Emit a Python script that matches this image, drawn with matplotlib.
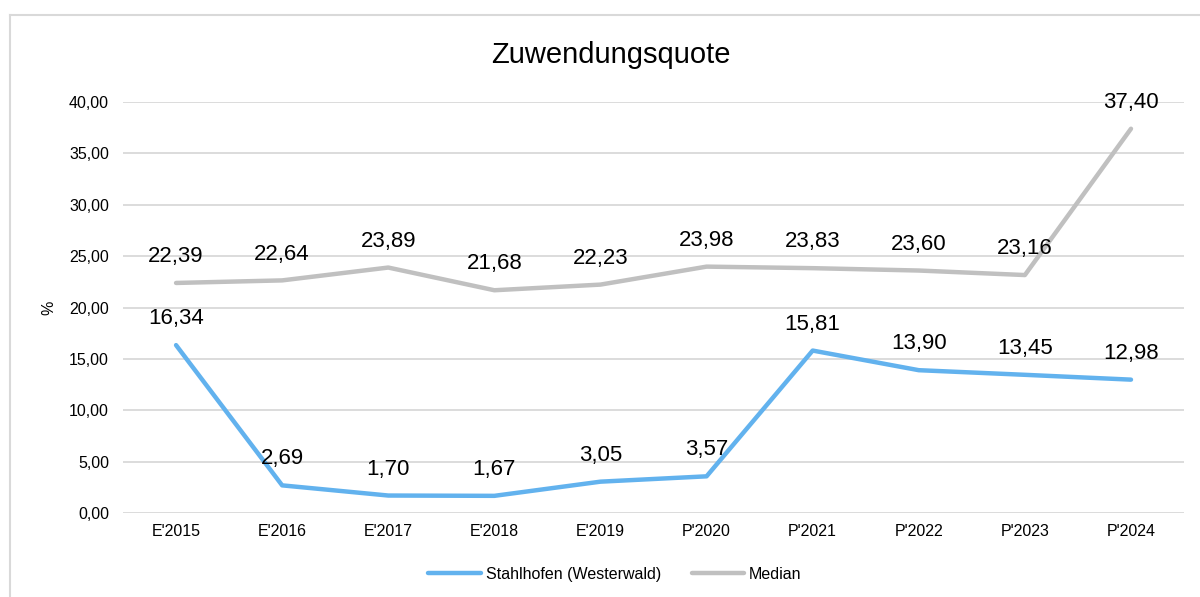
import matplotlib
matplotlib.use("Agg")
import matplotlib.pyplot as plt
from matplotlib.lines import Line2D
from matplotlib.ticker import FuncFormatter

categories = ["E'2015", "E'2016", "E'2017", "E'2018", "E'2019",
              "P'2020", "P'2021", "P'2022", "P'2023", "P'2024"]
stahlhofen = [16.34, 2.69, 1.70, 1.67, 3.05, 3.57, 15.81, 13.90, 13.45, 12.98]
median = [22.39, 22.64, 23.89, 21.68, 22.23, 23.98, 23.83, 23.60, 23.16, 37.40]

blue = "#62b2ee"
gray = "#c0c0c0"

plt.rcParams['font.family'] = ['Liberation Sans', 'DejaVu Sans']

fig = plt.figure(figsize=(12, 5.97), dpi=100)
ax = fig.add_axes([0.1025, 0.1407, 0.8842, 0.6884])

x = range(len(categories))
ax.plot(x, stahlhofen, color=blue, lw=3.2, solid_capstyle='round',
        label="Stahlhofen (Westerwald)", zorder=3)
ax.plot(x, median, color=gray, lw=3.2, solid_capstyle='round',
        label="Median", zorder=3)

def fmt(v):
    return f"{v:.2f}".replace(".", ",")

for series in (stahlhofen, median):
    for i, v in enumerate(series):
        ax.annotate(fmt(v), (i, v), xytext=(0, 19), textcoords='offset points',
                    ha='center', va='center', fontsize=16, color='#000000', zorder=4)

ax.set_xlim(-0.5, len(categories) - 0.5)
ax.set_ylim(0, 40)
ax.set_yticks(range(0, 41, 5))
ax.yaxis.set_major_formatter(FuncFormatter(lambda v, p: fmt(v)))
ax.set_xticks(list(x))
ax.set_xticklabels(categories)
ax.tick_params(axis='both', length=0, labelsize=11.5, colors='#000000')
ax.tick_params(axis='y', pad=10)
ax.tick_params(axis='x', pad=8)
ax.grid(axis='y', color='#d9d9d9', lw=1.3, zorder=0)
for s in ax.spines.values():
    s.set_visible(False)
ax.set_ylabel("%", fontsize=11.5, labelpad=9)

fig.text(0.509, 0.908, "Zuwendungsquote", ha='center', va='center', fontsize=21)

fig.legend(loc='center', bbox_to_anchor=(0.5125, 0.038), ncol=2, frameon=False,
           fontsize=11.5, handlelength=3.3, handletextpad=0.3, columnspacing=1.9)

# outer chart border (left and top only visible)
fig.add_artist(Line2D([0.0083, 0.0083], [0, 0.975], color='#d9d9d9', lw=1.5,
                      transform=fig.transFigure))
fig.add_artist(Line2D([0.0083, 1], [0.975, 0.975], color='#d9d9d9', lw=1.5,
                      transform=fig.transFigure))

fig.savefig("out.png", dpi=100, facecolor='white')
